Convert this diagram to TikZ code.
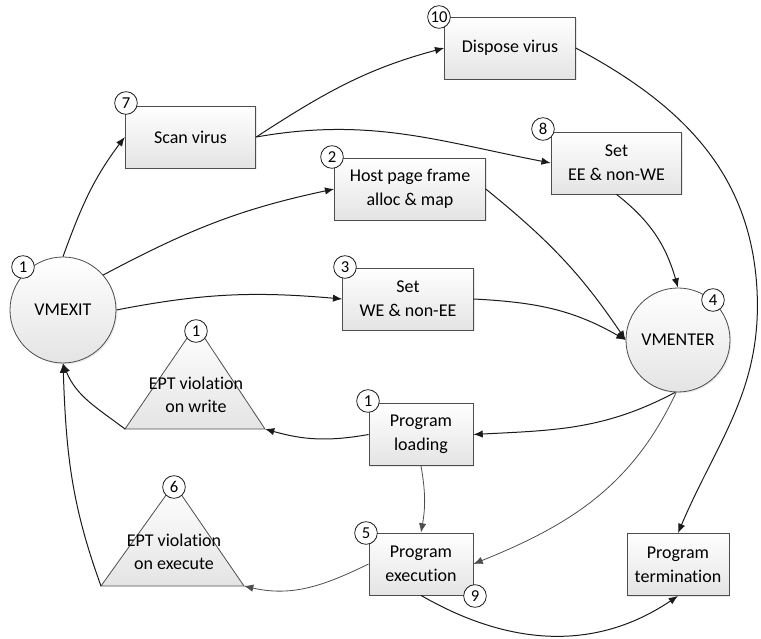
\documentclass[tikz,border=0pt]{standalone}
\usepackage{fontspec}
\setmainfont{Carlito}[Ligatures=NoCommon]
\usetikzlibrary{arrows.meta,shadows}
\definecolor{vmDark}{HTML}{1A1A1A}
\definecolor{vmGrey}{HTML}{4D4D4D}
\definecolor{vmFill}{HTML}{E4E4E4}

\begin{document}
\begin{tikzpicture}[x=0.75pt, y=0.75pt,
    box/.style={draw=vmGrey, line width=0.6pt, top color=white, bottom color=vmFill,
      drop shadow={shadow xshift=1pt, shadow yshift=-1pt, fill=black!25, opacity=.35},
      align=center, font=\fontsize{13.5}{18}\selectfont, inner sep=2pt,
      minimum width=98pt, minimum height=46.5pt},
    state/.style={circle, draw=vmGrey, line width=0.6pt, top color=white, bottom color=vmFill,
      drop shadow={shadow xshift=1pt, shadow yshift=-1pt, fill=black!25, opacity=.35},
      font=\fontsize{13.5}{18}\selectfont, inner sep=0pt, minimum size=79.5pt},
    tri/.style={draw=vmGrey, line width=0.6pt, top color=white, bottom color=vmFill},
    tritext/.style={align=center, font=\fontsize{13.5}{17}\selectfont, inner sep=0pt},
    tag/.style={circle, draw=vmDark, line width=0.6pt, fill=white, inner sep=0pt,
      minimum size=17pt, font=\fontsize{12.5}{14}\selectfont},
    arr/.style={-{Latex[length=7pt,width=5.5pt]}, line width=0.75pt, vmDark},
    arrg/.style={-{Latex[length=7pt,width=5.5pt]}, line width=0.6pt, vmGrey}]
  \useasboundingbox (0,0) rectangle (761,639);

  % states and steps
  \node[state] (vmexit) at (63,329) {VMEXIT};
  \node[state, minimum size=78pt] (vmenter) at (678,299) {VMENTER};
  \node[box] (scan) at (190.5,502) {Scan virus};
  \node[box] (dispose) at (510,591) {Dispose virus};
  \node[box, minimum width=113pt] (host) at (410,450) {Host page frame\\alloc \& map};
  \node[box] (setwe) at (408,340) {Set\\WE \& non-EE};
  \node[box] (setee) at (616.5,476) {Set\\EE \& non-WE};
  \node[box, minimum width=78pt] (load) at (421,204.5) {Program\\loading};
  \node[box, minimum width=78pt] (exec) at (421,75) {Program\\execution};
  \node[box, minimum width=76.5pt] (term) at (678,74.5) {Program\\termination};

  % violation triangles
  \coordinate (wtop) at (196,314);
  \coordinate (wleft) at (125,210);
  \coordinate (wright) at (265,210);
  \path[tri] (wtop) -- (wleft) -- (wright) -- cycle;
  \node[tritext] (wviol) at (196,244) {EPT violation\\on write};
  \coordinate (xtop) at (174,155);
  \coordinate (xleft) at (101,53);
  \coordinate (xright) at (244,53);
  \path[tri] (xtop) -- (xleft) -- (xright) -- cycle;
  \node[tritext] (xviol) at (174,87) {EPT violation\\on execute};

  % turn around the right side
  \coordinate (bend) at (757,349);

  % connectors
  \draw[arr] (vmexit.north) to[out=70,in=233] (scan.west);
  \draw[arr] (vmexit.41) to[out=28,in=192] (host.west);
  \draw[arr] (vmexit.east) to[out=11,in=175] (setwe.west);
  \draw[arr] (scan.east) to[out=33,in=195] (dispose.west);
  \draw[arr] (scan.east) to[out=10,in=169] (setee.west);
  \draw[arr] (dispose.east) to[out=-28,in=93] (bend) to[out=-87,in=67] (term.north);
  \draw[arr] (host.east) to[out=-39,in=124] (vmenter.west);
  \draw[arr] (setee.south) to[out=-38,in=106] (vmenter.north);
  \draw[arr] (setwe.east) to[out=-3,in=150] (vmenter.west);
  \draw[arr] (vmenter.-93) to[out=208,in=3] (load.east);
  \draw[arrg] (vmenter.-92) to[out=245,in=22] (exec.east);
  \draw[arr] (load.west) to[out=190,in=344] (wright);
  \draw[arr] (wleft) to[out=143,in=292] (vmexit.south);
  \draw[arrg] (load.south) to[out=-80,in=80] (exec.north);
  \draw[arrg] (exec.west) to[out=206,in=347] (xright);
  \draw[arr] (xleft) to[out=110,in=272] (vmexit.south);
  \draw[arr] (exec.south) to[out=-30,in=214] (term.south);

  % step numbers
  \node[tag] (t1a) at (23,372) {1};
  \node[tag] (t7) at (126,536) {7};
  \node[tag] (t10) at (439,622) {10};
  \node[tag] (t2) at (332,482) {2};
  \node[tag] (t3) at (345,372) {3};
  \node[tag] (t8) at (543,510) {8};
  \node[tag] (t4) at (713,339) {4};
  \node[tag] (t1b) at (196,308) {1};
  \node[tag] (t1c) at (368,238) {1};
  \node[tag] (t6) at (174,152) {6};
  \node[tag] (t5) at (366,106) {5};
  \node[tag] (t9) at (475,43) {9};
\end{tikzpicture}
\end{document}
